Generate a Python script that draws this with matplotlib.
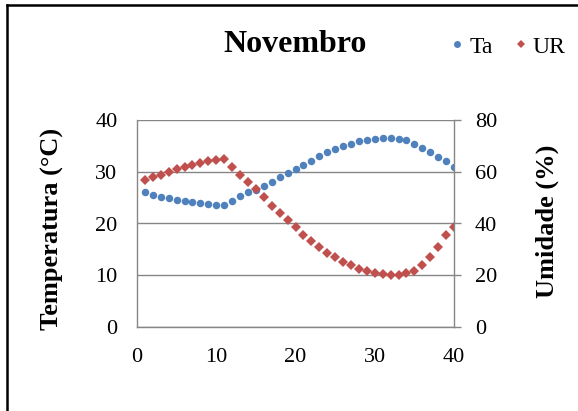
import matplotlib
matplotlib.use("Agg")
import matplotlib.pyplot as plt
from matplotlib.lines import Line2D

days = list(range(1, 41))
ta = [26.0, 25.5, 25.1, 24.9, 24.6, 24.4, 24.2, 24.0, 23.7, 23.5,
      23.5, 24.4, 25.3, 26.0, 26.5, 27.3, 28.1, 28.9, 29.7, 30.5,
      31.4, 32.1, 33.0, 33.8, 34.3, 34.9, 35.4, 35.9, 36.1, 36.3,
      36.5, 36.5, 36.4, 36.1, 35.4, 34.6, 33.8, 32.9, 32.0, 31.0]
ur = [56.8, 57.8, 58.9, 59.9, 61.1, 61.7, 62.6, 63.5, 64.2, 64.7,
      64.9, 62.0, 58.7, 56.0, 53.3, 50.1, 46.9, 43.9, 41.2, 38.5,
      35.6, 33.1, 30.9, 28.7, 26.9, 25.2, 23.8, 22.4, 21.5, 21.0,
      20.6, 20.2, 20.2, 20.7, 21.6, 23.8, 27.2, 31.0, 35.6, 38.5]
x_ticks = [0, 10, 20, 30, 40]
ta_ticks = [0, 10, 20, 30, 40]
ur_ticks = [0, 20, 40, 60, 80]

title = "Novembro"
ylabel_left = "Temperatura (°C)"
ylabel_right = "Umidade (%)"

plt.rcParams['font.family'] = ['Liberation Serif', 'DejaVu Serif']
blue = '#4F81BD'
red = '#C0504D'
grey = '#868686'

fig = plt.figure(figsize=(5.78, 4.11), dpi=100)
ax = fig.add_axes([137/578, 1-327/411, (454-137)/578, (327-120)/411])
ax2 = ax.twinx()

ax.plot(days, ta, linestyle='none', marker='o', markersize=5.4, color=blue, markeredgewidth=0)
ax2.plot(days, ur, linestyle='none', marker='D', markersize=4.6, color=red, markeredgewidth=0)

ax.set_xlim(0, 40)
ax.set_ylim(0, 40)
ax2.set_ylim(0, 80)
ax.set_xticks(x_ticks)
ax.set_yticks(ta_ticks)
ax2.set_yticks(ur_ticks)

ax.grid(axis='y', color=grey, linewidth=1.0)
ax.set_axisbelow(True)
for a in (ax, ax2):
    a.spines['top'].set_visible(False)
    for s in ('left', 'bottom', 'right'):
        a.spines[s].set_color(grey)
        a.spines[s].set_linewidth(1.0)
ax.spines['right'].set_visible(False)
ax2.spines['left'].set_visible(False)
ax2.spines['bottom'].set_visible(False)

ax.tick_params(axis='y', length=0, pad=14, labelsize=16)
ax.tick_params(axis='x', length=0, pad=15, labelsize=16)
ax2.tick_params(axis='y', length=5, width=1.0, color=grey, direction='out', pad=10, labelsize=16)

fig.text(52/578, 1-229/411, ylabel_left, rotation=90, ha='center', va='center',
         fontsize=19, fontweight='bold')
fig.text(547/578, 1-221/411, ylabel_right, rotation=90, ha='center', va='center',
         fontsize=19, fontweight='bold')
fig.text(295/578, 1-45/411, title, ha='center', va='center', fontsize=23, fontweight='bold')

handles = [Line2D([], [], linestyle='none', marker='o', markersize=5, color=blue, markeredgewidth=0),
           Line2D([], [], linestyle='none', marker='D', markersize=4, color=red, markeredgewidth=0)]
fig.legend(handles, ['Ta', 'UR'], loc='center', bbox_to_anchor=(508/578, 1-47/411), ncol=2,
           frameon=False, fontsize=17, handlelength=0.6, handletextpad=0.2, columnspacing=0.9,
           borderpad=0)

# outer frame lines
fig.add_artist(Line2D([7/578, 1.0], [1-5/411, 1-5/411], color='black', linewidth=1.8,
                      transform=fig.transFigure))
fig.add_artist(Line2D([7/578, 7/578], [0, 1-5/411], color='black', linewidth=1.8,
                      transform=fig.transFigure))

fig.savefig('out.png', dpi=100)
